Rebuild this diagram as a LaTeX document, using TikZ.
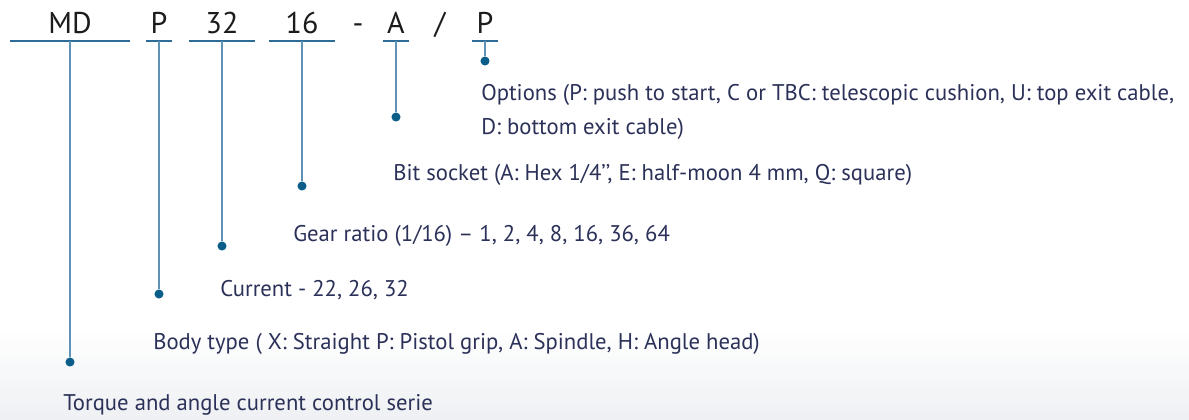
\documentclass[tikz,border=0pt]{standalone}
\usepackage{fontspec}
\setmainfont{PT Sans}
\definecolor{codeink}{HTML}{1C1C1C}
\definecolor{labelink}{HTML}{2B3158}
\definecolor{barblue}{HTML}{2D6D98}
\definecolor{stemblue}{HTML}{5E93B6}
\definecolor{dotblue}{HTML}{0B5E8A}
\definecolor{floorgrey}{HTML}{EEF0F3}

\begin{document}
\begin{tikzpicture}[x=0.75pt, y=-0.75pt,
  code/.style={anchor=base, inner sep=0pt, text=codeink, font=\fontsize{22.5}{22.5}\selectfont},
  label/.style={anchor=base west, inner sep=0pt, text=labelink, font=\fontsize{17}{25.5}\selectfont},
  pin/.style={circle, fill=dotblue, inner sep=0pt, minimum size=6.8pt},
  bar/.style={barblue, line width=1.4pt},
  stem/.style={stemblue, line width=1.1pt}]

% background with light floor gradient
\fill[white] (0,0) rectangle (1189,419);
\shade[top color=white, bottom color=floorgrey] (0,330) rectangle (1189,419);
\useasboundingbox (0,0) rectangle (1189,419);

% product code
\node [code] (md) at (70,33) {MD};
\node [code] (body) at (159,33) {P};
\node [code] (cur) at (222,33) {32};
\node [code] (ratio) at (302,33) {16};
\node [code] (dash) at (358,33) {-};
\node [code] (sock) at (396,33) {A};
\node [code] (slash) at (440,33) {/};
\node [code] (opt) at (485,33) {P};

% underlines
\coordinate (mdbar) at (70,41);
\coordinate (bodybar) at (159,41);
\coordinate (curbar) at (222,41);
\coordinate (ratiobar) at (302,41);
\coordinate (sockbar) at (396,41);
\coordinate (optbar) at (485,41);
\draw[bar] (mdbar) +(-60,0) -- +(60,0);
\draw[bar] (bodybar) +(-13,0) -- +(13,0);
\draw[bar] (curbar) +(-33,0) -- +(33,0);
\draw[bar] (ratiobar) +(-33,0) -- +(33,0);
\draw[bar] (sockbar) +(-13,0) -- +(13,0);
\draw[bar] (optbar) +(-13,0) -- +(13,0);

% dots
\node [pin] (mddot) at (70,362) {};
\node [pin] (bodydot) at (159,294) {};
\node [pin] (curdot) at (222,246) {};
\node [pin] (ratiodot) at (302,186) {};
\node [pin] (sockdot) at (396,117) {};
\node [pin] (optdot) at (485,61) {};

\draw[stem] (mdbar) -- (mddot);
\draw[stem] (bodybar) -- (bodydot);
\draw[stem] (curbar) -- (curdot);
\draw[stem] (ratiobar) -- (ratiodot);
\draw[stem] (sockbar) -- (sockdot);
\draw[stem] (optbar) -- (optdot);

% descriptions
\node [label, align=left] (opttext) at (481,134) {Options (P: push to start, C or TBC: telescopic cushion, U: top exit cable,\\D: bottom exit cable)};
\node [label] (socktext) at (393,180) {Bit socket (A: Hex 1/4’’, E: half-moon 4 mm, Q: square)};
\node [label] (ratiotext) at (293,241) {Gear ratio (1/16) – 1, 2, 4, 8, 16, 36, 64};
\node [label] (curtext) at (220,296) {Current - 22, 26, 32};
\node [label] (bodytext) at (153,349) {Body type ( X: Straight P: Pistol grip, A: Spindle, H: Angle head)};
\node [label] (mdtext) at (63,410) {Torque and angle current control serie};
\end{tikzpicture}
\end{document}
